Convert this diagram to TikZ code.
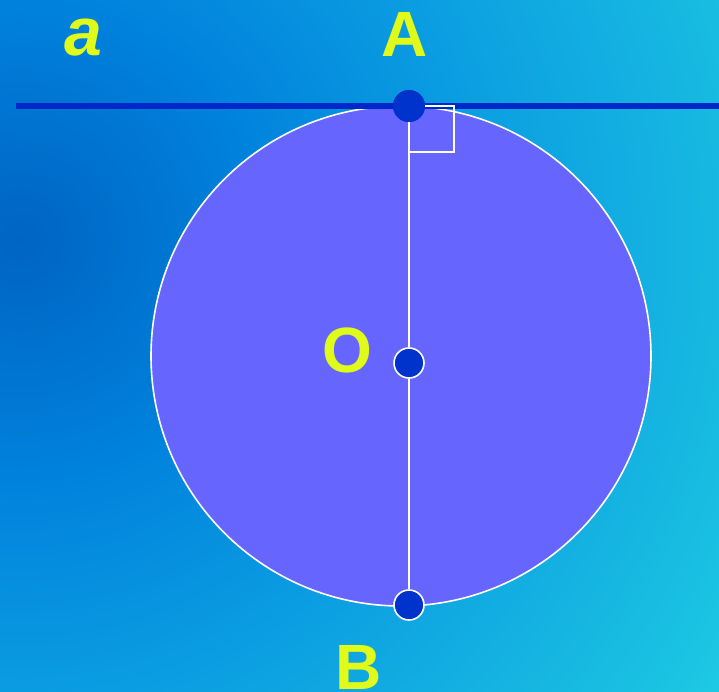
\documentclass[tikz,border=0pt]{standalone}
\usepackage{fontspec}
\setmainfont{Liberation Sans}
\usepackage{xcolor}
\definecolor{bgdark}{RGB}{0,100,195}
\definecolor{bgmidA}{RGB}{0,130,220}
\definecolor{bgmidB}{RGB}{10,155,225}
\definecolor{bgmidC}{RGB}{25,190,225}
\definecolor{bglight}{RGB}{30,205,228}
\definecolor{diskfill}{RGB}{102,102,255}
\definecolor{dotblue}{RGB}{0,51,204}
\definecolor{lineblue}{RGB}{0,40,200}
\definecolor{labelyellow}{RGB}{224,250,25}
\pgfdeclareradialshading{bgglow}{\pgfpoint{0bp}{0bp}}{color(0bp)=(bgdark); color(7bp)=(bgmidA); color(13bp)=(bgmidB); color(22bp)=(bgmidC); color(25bp)=(bglight); color(50bp)=(bglight)}
\tikzset{
  lbl/.style={inner sep=0pt,labelyellow,font=\fontsize{64}{64}\selectfont\bfseries},
  pt/.style={circle,fill=dotblue,inner sep=0pt,minimum size=30pt},
  ptrim/.style={pt,draw=white,line width=1.6pt}
}

\begin{document}
\begin{tikzpicture}[x=1pt,y=-1pt]
    % Background
    \useasboundingbox (0,0) rectangle (719,692);
    \begin{scope}
      \clip (0,0) rectangle (719,692);
      \shade[shading=bgglow] (20,240) circle (850);
    \end{scope}

    % Circle
    \fill[diskfill,draw=white,line width=1.6pt] (401,356) circle (250);

    % Tangent line a
    \coordinate (lstart) at (16,106);
    \coordinate (lend) at (719,106);
    \draw[lineblue,line width=6pt] (lstart) -- (lend);

    % Points
    \node[pt,minimum size=32pt] (A) at (409,106) {};
    \node[ptrim] (O) at (409,363) {};
    \node[ptrim] (B) at (409,605) {};

    % Diameter and right angle
    \draw[white,line width=1.6pt] (A.center) -- (O);
    \draw[white,line width=1.6pt] (O) -- (B);
    \draw[white,line width=1.6pt] (409,106) rectangle (454,152);
    \node[pt,minimum size=32pt] at (A) {};

    % Labels
    \node[lbl,font=\fontsize{68}{68}\selectfont\bfseries\itshape] (la) at (83,38) {a};
    \node[lbl] (lA) at (405,34) {A};
    \node[lbl] (lO) at (347,350) {O};
    \node[lbl] (lB) at (359,667) {B};
\end{tikzpicture}
\end{document}
